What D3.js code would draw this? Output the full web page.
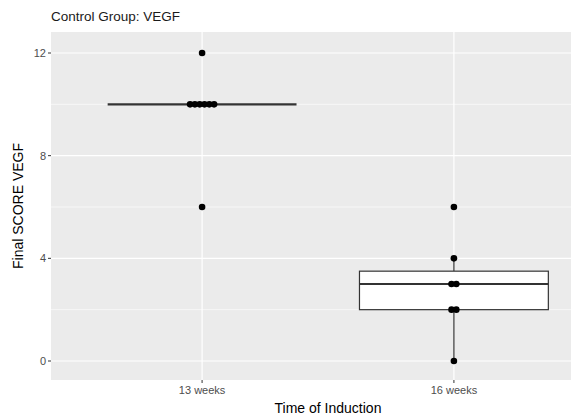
<!DOCTYPE html>
<html>
<head>
<meta charset="utf-8">
<script src="https://cdn.jsdelivr.net/npm/d3@7"></script>
<style>
  body { margin: 0; background: #fff; }
  svg { display: block; font-family: "Liberation Sans", Arial, sans-serif; }
</style>
</head>
<body>
<svg id="chart"></svg>
<script>
// data
const groups = ['13 weeks', '16 weeks'];
const scores13 = [12, 10, 10, 10, 10, 10, 10, 6];
const scores16 = [6, 4, 3, 3, 2, 2, 0];
const yTicks = [0, 4, 8, 12];
const yMinor = [2, 6, 10];

const width = 571, height = 419;
const panel = {left: 51, top: 32, right: 571, bottom: 380};

const svg = d3.select('#chart')
    .attr('width', width)
    .attr('height', height);

// discrete x positions 1, 2 with ggplot-style expansion
const xscale = d3.scaleLinear()
    .domain([0.4, 2.6])
    .range([panel.left, 605]);

const yscale = d3.scaleLinear()
    .domain([0, 12])
    .range([361, 53]);

svg.append('rect')
    .attr('x', panel.left)
    .attr('y', panel.top)
    .attr('width', panel.right - panel.left)
    .attr('height', panel.bottom - panel.top)
    .attr('fill', '#ebebeb');

const grid = svg.append('g');
grid.selectAll('.minor')
    .data(yMinor)
    .join('line')
    .attr('x1', panel.left).attr('x2', panel.right)
    .attr('y1', d => yscale(d)).attr('y2', d => yscale(d))
    .attr('stroke', '#fff').attr('stroke-width', 0.6);
grid.selectAll('.major')
    .data(yTicks)
    .join('line')
    .attr('x1', panel.left).attr('x2', panel.right)
    .attr('y1', d => yscale(d)).attr('y2', d => yscale(d))
    .attr('stroke', '#fff').attr('stroke-width', 1.2);
grid.selectAll('.vmajor')
    .data(groups)
    .join('line')
    .attr('x1', (d, i) => xscale(i + 1)).attr('x2', (d, i) => xscale(i + 1))
    .attr('y1', panel.top).attr('y2', panel.bottom)
    .attr('stroke', '#fff').attr('stroke-width', 1.2);

// box plots
const series = [scores13, scores16];
const boxW = 0.75;
series.forEach((vals, i) => {
    const s = vals.slice().sort(d3.ascending);
    const q1 = d3.quantile(s, 0.25);
    const med = d3.quantile(s, 0.5);
    const q3 = d3.quantile(s, 0.75);
    const iqr = q3 - q1;
    const lo = d3.min(s.filter(v => v >= q1 - 1.5 * iqr));
    const hi = d3.max(s.filter(v => v <= q3 + 1.5 * iqr));
    const cx = xscale(i + 1);
    const x0 = xscale(i + 1 - boxW / 2), x1 = xscale(i + 1 + boxW / 2);
    const g = svg.append('g');
    g.append('line')
        .attr('x1', cx).attr('x2', cx)
        .attr('y1', yscale(hi)).attr('y2', yscale(q3))
        .attr('stroke', '#333').attr('stroke-width', 1.2);
    g.append('line')
        .attr('x1', cx).attr('x2', cx)
        .attr('y1', yscale(q1)).attr('y2', yscale(lo))
        .attr('stroke', '#333').attr('stroke-width', 1.2);
    g.append('rect')
        .attr('x', x0).attr('y', yscale(q3))
        .attr('width', x1 - x0).attr('height', yscale(q1) - yscale(q3))
        .attr('fill', '#fff').attr('stroke', '#333').attr('stroke-width', 1.2);
    g.append('line')
        .attr('x1', x0).attr('x2', x1)
        .attr('y1', yscale(med)).attr('y2', yscale(med))
        .attr('stroke', '#333').attr('stroke-width', 2.2);
});

// centred dot stacks
const spacing = 4.8;
series.forEach((vals, i) => {
    const counts = d3.rollups(vals, v => v.length, d => d);
    const pts = [];
    counts.forEach(([v, n]) => {
        for (let k = 0; k < n; k++) pts.push({v: v, off: (k - (n - 1) / 2) * spacing});
    });
    svg.append('g').selectAll('circle')
        .data(pts)
        .join('circle')
        .attr('cx', d => xscale(i + 1) + d.off)
        .attr('cy', d => yscale(d.v))
        .attr('r', 3.3)
        .attr('fill', '#000');
});

// axes
const yaxis = svg.append('g');
yaxis.selectAll('line')
    .data(yTicks)
    .join('line')
    .attr('x1', panel.left - 3).attr('x2', panel.left)
    .attr('y1', d => yscale(d)).attr('y2', d => yscale(d))
    .attr('stroke', '#333');
yaxis.selectAll('text')
    .data(yTicks)
    .join('text')
    .attr('x', panel.left - 5)
    .attr('y', d => yscale(d))
    .attr('dy', '0.35em')
    .attr('text-anchor', 'end')
    .attr('font-size', 11)
    .attr('fill', '#4d4d4d')
    .text(d => d);

const xaxis = svg.append('g');
xaxis.selectAll('line')
    .data(groups)
    .join('line')
    .attr('x1', (d, i) => xscale(i + 1)).attr('x2', (d, i) => xscale(i + 1))
    .attr('y1', panel.bottom).attr('y2', panel.bottom + 3)
    .attr('stroke', '#333');
xaxis.selectAll('text')
    .data(groups)
    .join('text')
    .attr('x', (d, i) => xscale(i + 1))
    .attr('y', panel.bottom + 14)
    .attr('text-anchor', 'middle')
    .attr('font-size', 11)
    .attr('fill', '#4d4d4d')
    .text(d => d);

svg.append('text')
    .attr('x', (panel.left + 605) / 2)
    .attr('y', 413)
    .attr('text-anchor', 'middle')
    .attr('font-size', 14)
    .attr('fill', '#000')
    .text('Time of Induction');

svg.append('text')
    .attr('transform', `translate(23, ${(panel.top + panel.bottom) / 2}) rotate(-90)`)
    .attr('text-anchor', 'middle')
    .attr('font-size', 14)
    .attr('fill', '#000')
    .text('Final SCORE VEGF');

svg.append('text')
    .attr('x', panel.left)
    .attr('y', 21)
    .attr('font-size', 13.5)
    .attr('fill', '#1a1a1a')
    .text('Control Group: VEGF');
</script>
</body>
</html>
